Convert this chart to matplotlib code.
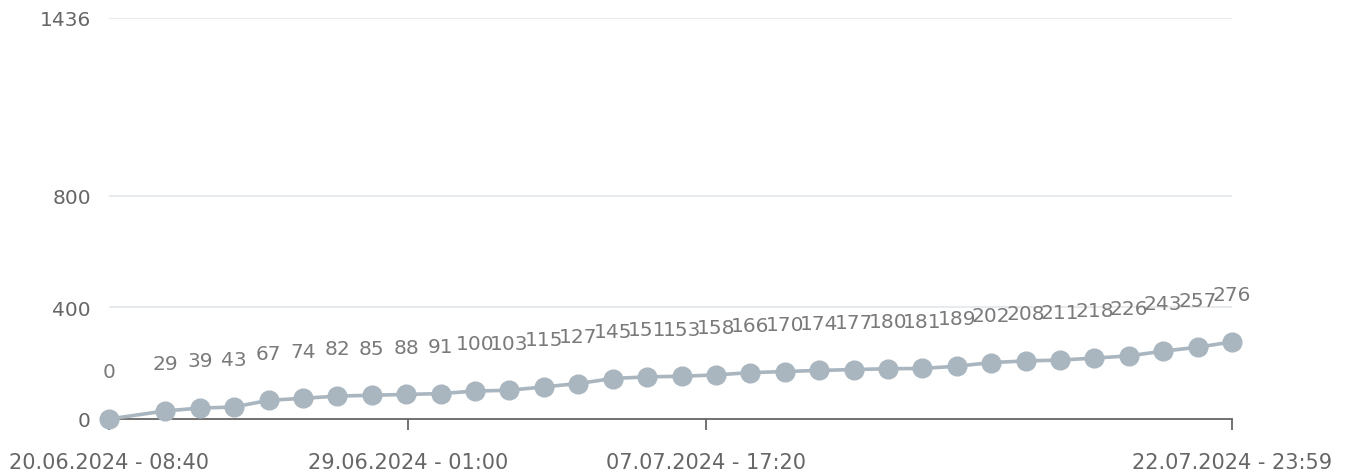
import matplotlib.pyplot as plt
import pandas as pd

dates = [
    "2024-06-20 08:40", "2024-06-22 00:00", "2024-06-23 00:00", "2024-06-24 00:00",
    "2024-06-25 00:00", "2024-06-26 00:00", "2024-06-27 00:00", "2024-06-28 00:00",
    "2024-06-29 00:00", "2024-06-30 00:00", "2024-07-01 00:00", "2024-07-02 00:00",
    "2024-07-03 00:00", "2024-07-04 00:00", "2024-07-05 00:00", "2024-07-06 00:00",
    "2024-07-07 00:00", "2024-07-08 00:00", "2024-07-09 00:00", "2024-07-10 00:00",
    "2024-07-11 00:00", "2024-07-12 00:00", "2024-07-13 00:00", "2024-07-14 00:00",
    "2024-07-15 00:00", "2024-07-16 00:00", "2024-07-17 00:00", "2024-07-18 00:00",
    "2024-07-19 00:00", "2024-07-20 00:00", "2024-07-21 00:00", "2024-07-22 00:00",
    "2024-07-22 23:59",
]
counts = [0, 29, 39, 43, 67, 74, 82, 85, 88, 91, 100, 103, 115, 127, 145, 151,
          153, 158, 166, 170, 174, 177, 180, 181, 189, 202, 208, 211, 218, 226,
          243, 257, 276]

tick_dates = ["2024-06-20 08:40", "2024-06-29 01:00", "2024-07-07 17:20", "2024-07-22 23:59"]
tick_labels = ["20.06.2024 - 08:40", "29.06.2024 - 01:00", "07.07.2024 - 17:20", "22.07.2024 - 23:59"]
y_ticks = [0, 400, 800, 1436]

x = pd.to_datetime(dates)
xt = pd.to_datetime(tick_dates)

plt.rcParams['font.family'] = ['DejaVu Sans']
fig = plt.figure(figsize=(13.47, 4.77), dpi=100)
ax = fig.add_axes([109 / 1347, 1 - 420 / 477, (1232 - 109) / 1347, (420 - 19) / 477])

line_col = "#a9b5bf"
ax.plot(x, counts, color=line_col, linewidth=2.6, marker="o", markersize=13.5,
        clip_on=False, zorder=3)

for xi, v in zip(x, counts):
    ax.annotate(str(v), (xi, v), xytext=(0, 34), textcoords="offset points",
                ha="center", va="center", fontsize=14.5, color="#7a7a7a", zorder=4)

ax.set_xlim(x[0], x[-1])
ax.set_ylim(0, 1436)
ax.set_yticks(y_ticks)
ax.set_yticklabels([str(v) for v in y_ticks])
ax.set_xticks(xt)
ax.set_xticklabels(tick_labels)

for v in y_ticks[1:]:
    ax.axhline(v, color="#e6e9ec", linewidth=1.3, zorder=0)

for s in ["top", "right", "left"]:
    ax.spines[s].set_visible(False)
ax.spines["bottom"].set_color("#666666")
ax.spines["bottom"].set_linewidth(1.3)

ax.tick_params(axis="y", length=0, pad=13, labelsize=14.5, labelcolor="#666666")
ax.tick_params(axis="x", length=8, width=1.3, color="#666666", pad=16,
               labelsize=15, labelcolor="#666666")

fig.savefig("out.png", dpi=100)
